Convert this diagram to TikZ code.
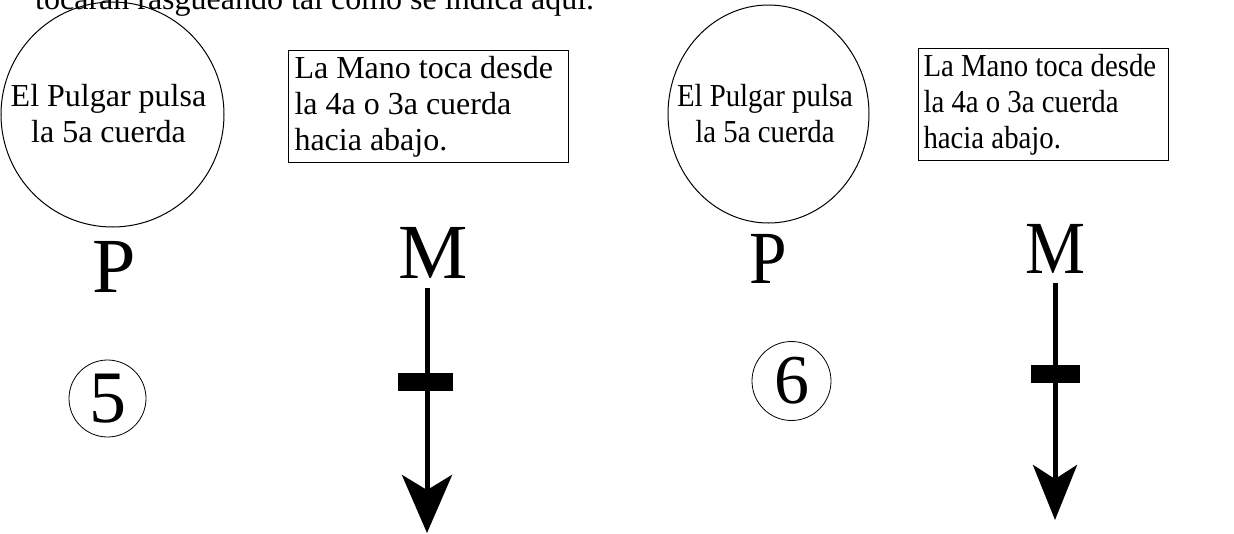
\documentclass[tikz,border=0pt]{standalone}
\usepackage{fontspec}
\setmainfont{Liberation Serif}
\newfontfamily\narrowserif[FakeStretch=0.9]{Liberation Serif}
\usetikzlibrary{arrows.meta,shapes.geometric}
\begin{document}
\begin{tikzpicture}[x=1pt,y=-1pt,
  txt/.style={font=\fontsize{32}{36}\selectfont},
  ntxt/.style={font=\narrowserif\fontsize{32}{36}\selectfont},
  ring/.style={draw,ellipse,inner sep=0pt,line width=1pt},
  note/.style={draw,line width=1pt,anchor=north west,align=flush left,inner ysep=0pt,minimum height=112pt},
  bigletter/.style={anchor=base,inner sep=0pt,font=\fontsize{78}{78}\selectfont},
  nbigletter/.style={anchor=base,inner sep=0pt,font=\narrowserif\fontsize{75}{75}\selectfont},
  stringno/.style={draw,circle,inner sep=0pt,line width=0.8pt},
  fretbar/.style={fill=black,inner sep=0pt,minimum height=18pt},
  strum/.style={line width=5pt,shorten <=10pt}]
\useasboundingbox (0,0) rectangle (1234,533);
\node [txt,anchor=base west,inner sep=0pt] (intro) at (35,9) {tocarán rasgueando tal como se indica aquí.};
\node [ring,minimum width=223pt,minimum height=225pt] (ring1) at (112.5,114.5) {};
\node [txt,align=center,inner sep=0pt] (thumb1) at (108.5,114) {El Pulgar pulsa\\la 5a cuerda};
\node [note,txt,text width=268pt,inner xsep=6pt] (hand1) at (288,50) {La Mano toca desde\\la 4a o 3a cuerda\\hacia abajo.};
\node [bigletter] (P1) at (114,292) {P};
\node [bigletter] (M1) at (433.5,278) {M};
\node [stringno,minimum size=77pt,font=\fontsize{74}{74}\selectfont] (str1) at (107.5,398.5) {5};
\coordinate (tip1) at (427,533);
\draw [strum,-{Stealth[length=58pt,width=50pt,inset=15pt]}] (tip1 |- M1.south) -- (tip1);
\node [fretbar,minimum width=55pt] (fret1) at (425.5,382) {};
\node [ring,minimum width=201pt,minimum height=218pt] (ring2) at (768.5,114) {};
\node [ntxt,align=center,inner sep=0pt] (thumb2) at (765,114) {El Pulgar pulsa\\la 5a cuerda};
\node [note,ntxt,text width=240pt,inner xsep=5pt] (hand2) at (918,48) {La Mano toca desde\\la 4a o 3a cuerda\\hacia abajo.};
\node [nbigletter] (P2) at (768.5,283) {P};
\node [nbigletter] (M2) at (1055,273) {M};
\node [stringno,minimum size=79pt,font=\fontsize{70}{70}\selectfont] (str2) at (791.5,381) {6};
\coordinate (tip2) at (1055,520);
\draw [strum,-{Stealth[length=55pt,width=44pt,inset=14pt]}] (tip2 |- M2.south) -- (tip2);
\node [fretbar,minimum width=49pt] (fret2) at (1055.5,374) {};
\end{tikzpicture}
\end{document}
